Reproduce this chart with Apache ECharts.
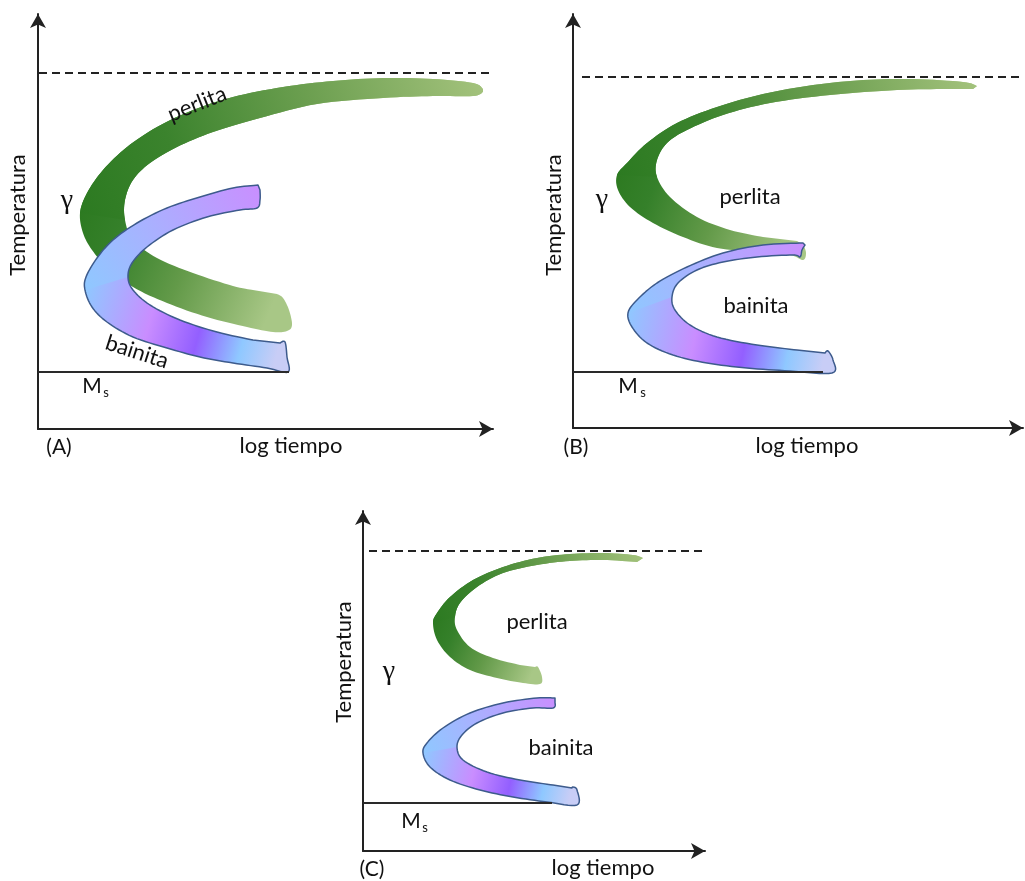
<!DOCTYPE html>
<html><head><meta charset="utf-8">
<script src="https://cdn.jsdelivr.net/npm/echarts/dist/echarts.min.js"></script>
<style>html,body{margin:0;padding:0;background:#fff}#c{width:1025px;height:881px}</style>
</head><body><div id="c"></div>
<script>
// ---- Data (schematic TTT diagrams; units: arbitrary log-time / temperature) ----
// Panel A
const perlitaA_outer = [[445,340],[435,346],[395,350],[345,351],[295,348],[245,342],[195,332],[155,319],[119,302],[89,282],[65,259],[49,236],[42,216],[45,196],[54,179],[69,162],[95,142],[129,126],[169,112],[209,102],[235,97],[249,98],[254,104],[251,119],[245,131],[239,135]];
const perlitaA_inner = [[215,139],[195,143],[155,156],[119,171],[95,189],[87,209],[87,229],[95,249],[112,266],[139,282],[175,297],[222,311],[279,325],[345,331],[395,333],[435,333],[445,337]];
const bainitaA_outer = [[220,244],[195,241],[162,232],[129,221],[99,206],[75,189],[59,171],[48,152],[47,139],[54,122],[69,107],[95,92],[129,81],[162,72],[195,66],[229,61],[250,57],[249,72],[247,87],[242,86]];
const bainitaA_inner = [[215,89],[179,97],[142,109],[112,124],[95,139],[90,152],[94,166],[109,182],[135,199],[169,212],[202,219],[219,221],[222,229],[222,239]];
const eutectoidA = [[1,356],[454,356]];
const msA = [[0,57],[251,57]];
// Panel B
const perlitaB_outer = [[404,342],[390,346],[340,349],[290,348],[240,343],[190,334],[144,321],[104,305],[74,285],[54,265],[44,253],[45,238],[57,221],[80,205],[110,191],[144,180],[184,176],[217,173],[230,168],[233,175],[230,183],[224,187]];
const perlitaB_inner = [[190,191],[157,198],[124,211],[97,231],[84,251],[84,268],[94,285],[114,298],[150,313],[197,325],[257,333],[324,338],[374,339],[400,339]];
const bainitaB_outer = [[230,185],[190,183],[150,175],[114,161],[84,145],[64,128],[55,115],[59,101],[74,85],[100,73],[134,65],[174,60],[217,57],[259,55],[260,68],[255,77],[252,75]];
const bainitaB_inner = [[224,78],[184,83],[144,91],[117,103],[102,118],[99,131],[105,145],[124,158],[150,166],[184,171],[220,173],[227,171],[229,178],[232,183]];
const eutectoidB = [[9,351],[449,351]];
const msB = [[0,56],[250,56]];
// Panel C
const perlitaC_outer = [[280,293],[270,296],[240,298],[207,297],[174,293],[140,284],[110,271],[87,254],[74,238],[70,228],[74,211],[87,194],[107,181],[134,173],[160,168],[177,167],[179,174],[175,184],[172,184]];
const perlitaC_inner = [[157,186],[130,193],[107,204],[94,221],[92,234],[97,248],[114,264],[140,278],[174,286],[207,290],[240,291],[274,289]];
const bainitaC_outer = [[192,153],[174,153],[140,148],[107,138],[80,123],[64,108],[60,98],[67,84],[87,71],[117,61],[150,54],[184,49],[214,46],[214,61],[210,64],[209,63]];
const bainitaC_inner = [[190,66],[157,71],[124,79],[100,91],[94,104],[99,116],[114,128],[140,138],[170,143],[190,143],[192,149]];
const eutectoidC = [[6,300],[347,300]];
const msC = [[0,48],[189,48]];

const panelLetters = ['(A)','(B)','(C)'];
const xTitle = 'log tiempo';
const yTitle = 'Temperatura';

// ---- Styling ----
const FONT = 'Lato, "Open Sans", sans-serif';
const greenUpper = [[0,'#2c7a21'],[0.25,'#3b832d'],[0.6,'#6c9f50'],[1,'#a3c27c']];
const greenLower = [[0,'#2d7a21'],[0.2,'#35802a'],[0.55,'#639a49'],[1,'#a8c786']];
const blueUpper  = [[0,'#8fc8ff'],[0.45,'#aab0ff'],[1,'#c98fff']];
const blueLower  = [[0,'#8fc8ff'],[0.35,'#c98dff'],[0.6,'#935fff'],[0.82,'#8fc8ff'],[1,'#c8cdf6']];
const BAND_STROKE = '#3d5b8c';

const grids = [
  {left:38,  bottom:452, width:455, height:415},
  {left:573, bottom:453, width:450, height:414},
  {left:363, bottom:30,  width:342, height:340}
];

function stops(arr){ return arr.map(s => ({offset:s[0], color:s[1]})); }

// Catmull-Rom smoothing of an open pixel polyline (rendering only)
function smoothPath(P, n) {
  if (P.length < 3) return P.slice();
  const out = [P[0]];
  for (let i = 0; i < P.length - 1; i++) {
    const p0 = P[Math.max(0, i - 1)], p1 = P[i], p2 = P[i + 1], p3 = P[Math.min(P.length - 1, i + 2)];
    for (let k = 1; k <= n; k++) {
      const t = k / n, t2 = t * t, t3 = t2 * t;
      const f = (a, b, c, d) => 0.5 * ((2 * b) + (-a + c) * t + (2 * a - 5 * b + 4 * c - d) * t2 + (-a + 3 * b - 3 * c + d) * t3);
      out.push([f(p0[0], p1[0], p2[0], p3[0]), f(p0[1], p1[1], p2[1], p3[1])]);
    }
  }
  return out;
}

function bandRender(outer, inner, upStops, lowStops, stroke) {
  return function (params, api) {
    const O0 = outer.map(p => api.coord(p));
    const I0 = inner.map(p => api.coord(p));
    let io = 0; O0.forEach((p,i) => { if (p[0] < O0[io][0]) io = i; });
    let ii = 0; I0.forEach((p,i) => { if (p[0] < I0[ii][0]) ii = i; });
    const nose = O0[io], tip = O0[0], lowEnd = O0[O0.length - 1];
    const N = 8;
    const O = smoothPath(O0, N), I = smoothPath(I0, N);
    const full = O.concat(I);
    const upper = O.slice(0, io * N + 1).concat(I.slice(ii * N));
    const grad = (a, b, st) => ({type:'linear', x:a[0], y:a[1], x2:b[0], y2:b[1], global:true, colorStops:stops(st)});
    const children = [
      {type:'polygon', shape:{points:full}, style:{fill:grad(nose, lowEnd, lowStops)}},
      {type:'polygon', shape:{points:upper}, style:{fill:grad(nose, tip, upStops)}}
    ];
    if (stroke) children.push({type:'polygon', shape:{points:full}, style:{fill:'none', stroke:stroke, lineWidth:1.5, lineJoin:'round'}});
    return {type:'group', children};
  };
}

const axisLine = {show:true, symbol:['none','arrow'], symbolSize:[12,14], lineStyle:{color:'#222', width:2}};
const xAxes = [], yAxes = [], series = [];
const shapes = [
  [perlitaA_outer, perlitaA_inner, bainitaA_outer, bainitaA_inner, eutectoidA, msA],
  [perlitaB_outer, perlitaB_inner, bainitaB_outer, bainitaB_inner, eutectoidB, msB],
  [perlitaC_outer, perlitaC_inner, bainitaC_outer, bainitaC_inner, eutectoidC, msC]
];
grids.forEach((g, i) => {
  xAxes.push({type:'value', gridIndex:i, min:0, max:g.width, axisLine, axisTick:{show:false}, axisLabel:{show:false}, splitLine:{show:false}});
  yAxes.push({type:'value', gridIndex:i, min:0, max:g.height, axisLine, axisTick:{show:false}, axisLabel:{show:false}, splitLine:{show:false}});
  const [po, pi, bo, bi, eu, ms] = shapes[i];
  const common = {xAxisIndex:i, yAxisIndex:i, silent:true, animation:false};
  series.push(Object.assign({type:'custom', data:[[0,0]], renderItem:bandRender(po, pi, greenUpper, greenLower, null), clip:false}, common));
  series.push(Object.assign({type:'custom', data:[[0,0]], renderItem:bandRender(bo, bi, blueUpper, blueLower, BAND_STROKE), clip:false}, common));
  series.push(Object.assign({type:'line', data:eu, symbol:'none', clip:false, lineStyle:{color:'#222', width:2, type:[8,5]}}, common));
  series.push(Object.assign({type:'line', data:ms, symbol:'none', clip:false, lineStyle:{color:'#2a2a2a', width:2}}, common));
});

// text labels (pixel layout)
const T = (text, x, y, size, opts) => Object.assign({type:'text', x, y, z:100, style:{text, fontSize:size, fontFamily:FONT, fill:'#111', align:'center', verticalAlign:'middle'}}, opts || {});
const gamma = (x, y) => ({type:'text', x, y, z:100, style:{text:'γ', fontSize:28, fontFamily:'"Liberation Serif", "DejaVu Serif", serif', fill:'#111', align:'center', verticalAlign:'middle'}});
const graphics = [
  // A
  T(panelLetters[0], 59, 447, 21), T(xTitle, 291, 446, 22), T(yTitle, 18, 215, 22, {rotation:Math.PI/2}),
  gamma(67, 201), T('M', 92, 386, 21), T('s', 106, 393, 13),
  T('perlita', 197, 104, 22, {rotation:0.38}), T('bainita', 137, 352, 22, {rotation:-0.31}),
  // B
  T(panelLetters[1], 576, 447, 21), T(xTitle, 807, 446, 22), T(yTitle, 554, 215, 22, {rotation:Math.PI/2}),
  gamma(602, 200), T('M', 628, 386, 21), T('s', 643, 393, 13),
  T('perlita', 750, 197, 22), T('bainita', 756, 306, 22),
  // C
  T(panelLetters[2], 372, 869, 21), T(xTitle, 603, 868, 22), T(yTitle, 344, 662, 22, {rotation:Math.PI/2}),
  gamma(389, 672), T('M', 411, 821, 21), T('s', 425, 828, 13),
  T('perlita', 537, 622, 22), T('bainita', 561, 748, 22)
];

const chart = echarts.init(document.getElementById('c'), null, {renderer:'canvas'});
chart.setOption({
  animation:false,
  backgroundColor:'#fff',
  grid: grids.map(g => Object.assign({containLabel:false}, g)),
  xAxis: xAxes, yAxis: yAxes, series, graphic: graphics
});
</script></body></html>
